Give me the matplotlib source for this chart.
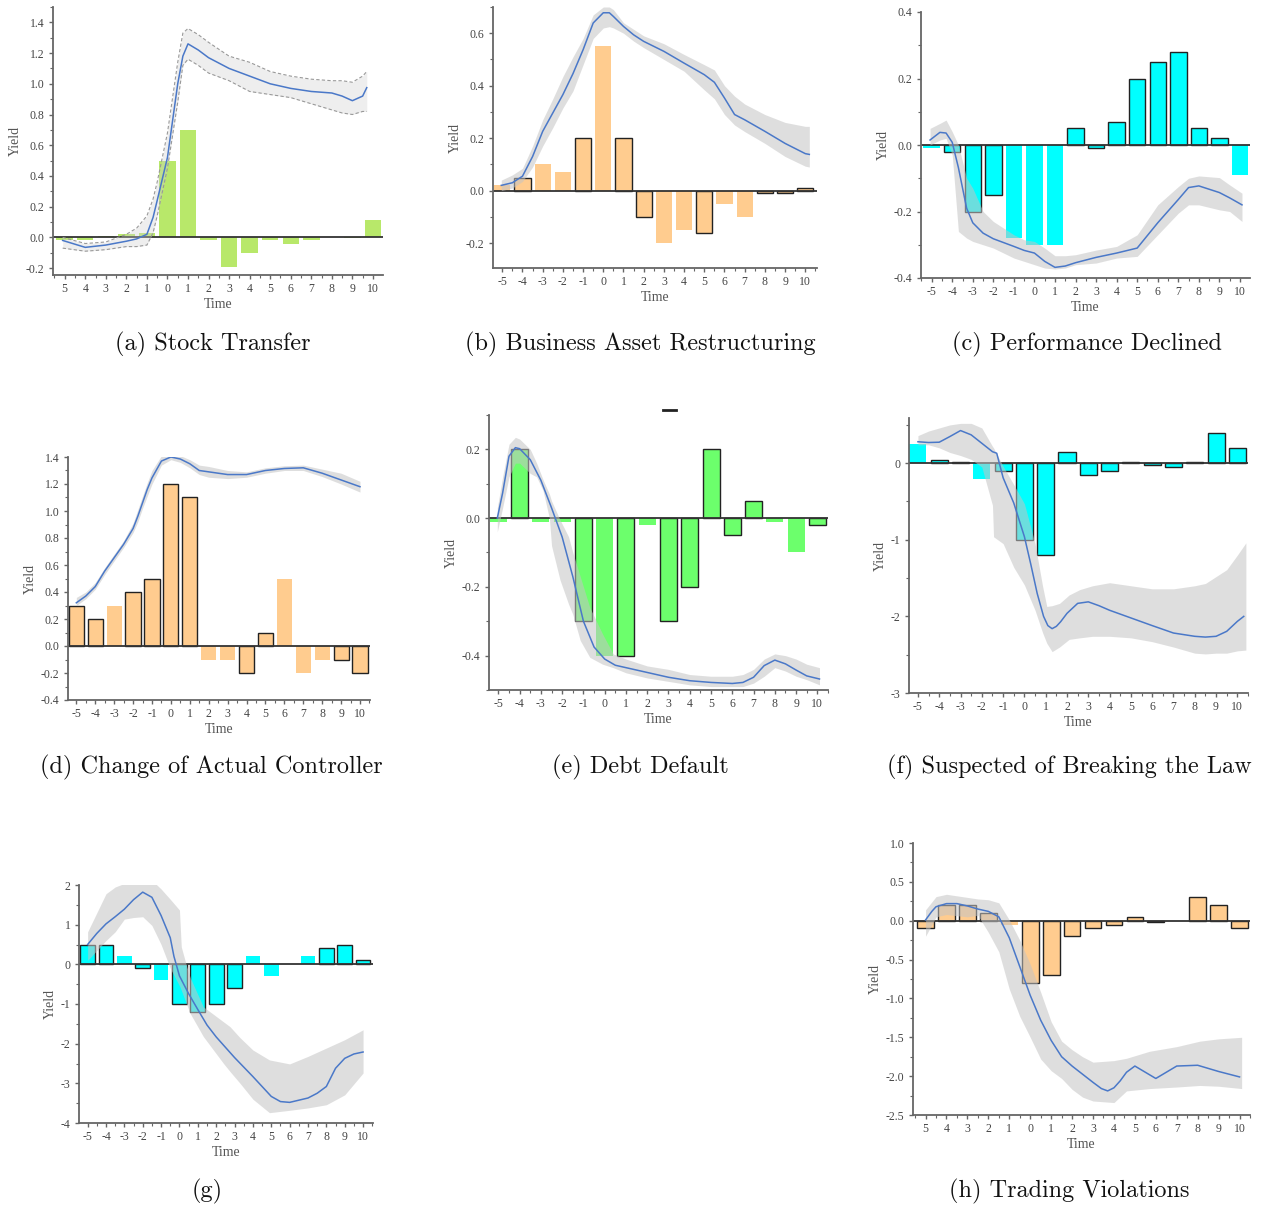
import matplotlib
matplotlib.use('Agg')
import matplotlib.pyplot as plt
from matplotlib.lines import Line2D
from matplotlib.ticker import MultipleLocator

plt.rcParams['font.family'] = ['Liberation Serif', 'DejaVu Serif']

# event window shared by all panels
time = list(range(-5, 11))
labels_signed = [str(v) for v in time]
labels_plain = [str(abs(v)) for v in time]

# (a) Stock Transfer
bars_a = [-0.02, -0.02, 0.01, 0.02, 0.03, 0.50, 0.70, -0.02, -0.19, -0.10, -0.015, -0.045, -0.02, 0.005, -0.005, 0.11]
line_t_a = [-5.1, -4, -3, -2, -1.5, -1, -0.7, -0.5, 0, 0.5, 0.75, 1, 1.5, 2, 3, 4, 5, 6, 7, 8, 8.5, 9, 9.5, 9.7]
line_y_a = [-0.02, -0.065, -0.05, -0.025, -0.01, 0.02, 0.13, 0.24, 0.52, 1.0, 1.18, 1.26, 1.22, 1.17, 1.10, 1.05, 1.0,
            0.97, 0.95, 0.94, 0.92, 0.89, 0.92, 0.975]
band_t_a = line_t_a
band_lo_a = [-0.07, -0.09, -0.08, -0.06, -0.06, -0.05, 0.03, 0.14, 0.45, 0.88, 1.12, 1.16, 1.12, 1.07, 1.02, 0.95, 0.93,
             0.91, 0.87, 0.83, 0.81, 0.80, 0.82, 0.82]
band_hi_a = [0.0, -0.04, -0.03, 0.02, 0.06, 0.14, 0.25, 0.36, 0.68, 1.14, 1.33, 1.36, 1.32, 1.27, 1.18, 1.14, 1.08,
             1.05, 1.03, 1.02, 1.02, 1.01, 1.05, 1.08]

# (b) Business Asset Restructuring
bars_b = [0.02, 0.05, 0.10, 0.07, 0.20, 0.55, 0.20, -0.10, -0.20, -0.15, -0.16, -0.05, -0.10, -0.01, -0.01, 0.01]
line_t_b = [-5.05, -4.5, -4, -3.5, -3, -2.5, -2, -1.5, -1, -0.5, 0, 0.3, 0.5, 1, 1.5, 2, 3, 4, 5, 5.5, 6, 6.5, 7, 8,
            9, 10, 10.2]
line_y_b = [0.02, 0.03, 0.055, 0.13, 0.226, 0.296, 0.366, 0.446, 0.537, 0.639, 0.678, 0.678, 0.664, 0.626, 0.594,
            0.569, 0.531, 0.486, 0.442, 0.413, 0.353, 0.29, 0.27, 0.226, 0.18, 0.141, 0.138]
band_t_b = line_t_b
band_lo_b = [0.0, 0.01, 0.035, 0.09, 0.17, 0.24, 0.315, 0.38, 0.48, 0.58, 0.62, 0.625, 0.62, 0.60, 0.57, 0.545, 0.50,
             0.455, 0.384, 0.35, 0.29, 0.25, 0.225, 0.18, 0.13, 0.093, 0.09]
band_hi_b = [0.04, 0.06, 0.085, 0.17, 0.27, 0.35, 0.435, 0.51, 0.58, 0.67, 0.70, 0.70, 0.69, 0.64, 0.615, 0.59, 0.56,
             0.519, 0.48, 0.46, 0.40, 0.36, 0.33, 0.29, 0.26, 0.245, 0.245]

# (c) Performance Declined
bars_c = [-0.01, -0.02, -0.20, -0.15, -0.28, -0.30, -0.30, 0.05, -0.01, 0.07, 0.20, 0.25, 0.28, 0.05, 0.02, -0.09]
line_t_c = [-5.08, -4.6, -4.3, -4, -3.7, -3.3, -3, -2.5, -2, -1, -0.5, 0, 0.5, 1, 1.5, 2, 3, 4, 5, 6, 7, 7.5, 8, 9,
            9.5, 10.1]
line_y_c = [0.015, 0.038, 0.036, 0.008, -0.068, -0.19, -0.234, -0.265, -0.282, -0.305, -0.317, -0.325, -0.35, -0.368,
            -0.364, -0.354, -0.338, -0.325, -0.31, -0.234, -0.164, -0.128, -0.123, -0.143, -0.159, -0.18]
band_t_c = line_t_c
band_lo_c = [0.0, 0.015, 0.02, -0.03, -0.26, -0.28, -0.29, -0.30, -0.31, -0.34, -0.35, -0.36, -0.37, -0.373, -0.37,
             -0.36, -0.355, -0.34, -0.335, -0.27, -0.205, -0.18, -0.18, -0.195, -0.20, -0.23]
band_hi_c = [0.05, 0.065, 0.075, 0.04, 0.0, -0.10, -0.13, -0.20, -0.23, -0.27, -0.285, -0.29, -0.31, -0.333, -0.333,
             -0.33, -0.316, -0.305, -0.27, -0.18, -0.125, -0.10, -0.093, -0.098, -0.12, -0.145]

# (d) Change of Actual Controller
bars_d = [0.30, 0.20, 0.30, 0.40, 0.50, 1.20, 1.10, -0.10, -0.10, -0.20, 0.10, 0.50, -0.20, -0.10, -0.10, -0.20]
line_t_d = [-5, -4.5, -4, -3.5, -3, -2.5, -2, -1.75, -1.5, -1.25, -1, -0.5, 0, 0.5, 1, 1.5, 2, 3, 4, 5, 6, 7, 8, 9, 10]
line_y_d = [0.32, 0.37, 0.44, 0.555, 0.654, 0.753, 0.87, 0.96, 1.06, 1.16, 1.245, 1.37, 1.40, 1.385, 1.35, 1.30, 1.29,
            1.27, 1.27, 1.30, 1.315, 1.32, 1.28, 1.23, 1.18]
band_t_d = line_t_d
band_lo_d = [0.30, 0.35, 0.42, 0.53, 0.63, 0.73, 0.84, 0.92, 1.02, 1.11, 1.20, 1.34, 1.38, 1.36, 1.32, 1.27, 1.25,
             1.24, 1.25, 1.28, 1.30, 1.30, 1.255, 1.20, 1.14]
band_hi_d = [0.36, 0.40, 0.47, 0.58, 0.68, 0.78, 0.91, 1.01, 1.11, 1.21, 1.30, 1.41, 1.43, 1.41, 1.38, 1.34, 1.33,
             1.30, 1.29, 1.32, 1.335, 1.34, 1.31, 1.28, 1.22]

# (e) Debt Default
bars_e = [-0.01, 0.20, -0.01, -0.01, -0.30, -0.40, -0.40, -0.02, -0.30, -0.20, 0.20, -0.05, 0.05, -0.01, -0.10, -0.02]
line_t_e = [-5.05, -4.8, -4.5, -4.2, -4, -3.5, -3, -2.5, -2, -1.5, -1, -0.5, 0, 0.5, 1, 2, 3, 4, 5, 6, 6.5, 7, 7.5,
            8, 8.5, 9, 9.5, 10.1]
line_y_e = [0.0, 0.073, 0.18, 0.205, 0.202, 0.17, 0.11, 0.03, -0.055, -0.17, -0.30, -0.375, -0.41, -0.428, -0.435,
            -0.449, -0.463, -0.473, -0.478, -0.481, -0.478, -0.463, -0.429, -0.413, -0.424, -0.442, -0.459, -0.468]
band_t_e = [-5.05, -4.8, -4.5, -4.2, -4, -3.5, -3.2, -2.9, -2.6, -2.5, -2.1, -1.7, -1.5, -1.15, -0.7, -0.1, 0.4, 1,
            2, 3, 4, 5, 6, 6.5, 7, 7.5, 8, 8.5, 9, 9.5, 10.1]
band_lo_e = [-0.04, 0.03, 0.12, 0.16, 0.16, 0.13, 0.12, 0.08, 0.0, -0.08, -0.18, -0.25, -0.28, -0.356, -0.405, -0.425,
             -0.435, -0.45, -0.465, -0.475, -0.485, -0.49, -0.49, -0.49, -0.48, -0.46, -0.435, -0.445, -0.46, -0.47,
             -0.485]
band_hi_e = [0.03, 0.12, 0.215, 0.235, 0.23, 0.20, 0.16, 0.112, 0.07, 0.05, -0.005, -0.054, -0.10, -0.17, -0.26,
             -0.337, -0.395, -0.41, -0.43, -0.44, -0.455, -0.46, -0.46, -0.455, -0.44, -0.41, -0.395, -0.40, -0.41,
             -0.425, -0.435]

# (f) Suspected of Breaking the Law
bars_f = [0.25, 0.04, 0.02, -0.20, -0.10, -1.00, -1.20, 0.15, -0.15, -0.10, 0.02, -0.02, -0.05, 0.01, 0.40, 0.20]
line_t_f = [-5, -4.5, -4, -3.5, -3, -2.5, -2, -1.5, -1.3, -1, -0.5, 0, 0.3, 0.6, 0.9, 1.1, 1.3, 1.5, 1.7, 2, 2.5, 3,
            3.5, 4, 5, 6, 7, 8, 8.5, 9, 9.5, 10, 10.3]
line_y_f = [0.28, 0.27, 0.274, 0.348, 0.426, 0.37, 0.26, 0.15, 0.13, -0.19, -0.52, -0.96, -1.32, -1.70, -2.0, -2.12,
            -2.16, -2.13, -2.07, -1.96, -1.83, -1.81, -1.86, -1.92, -2.02, -2.12, -2.217, -2.26, -2.27, -2.26, -2.195,
            -2.065, -2.0]
band_t_f = [-5, -4.5, -4, -3.5, -3, -2.5, -2, -1.5, -1.45, -1, -0.5, 0, 0.5, 0.85, 1.05, 1.3, 1.65, 2.1, 2.6, 3.2, 4,
            5, 6, 7, 8, 8.5, 9, 9.5, 10, 10.4]
band_lo_f = [0.24, 0.24, 0.2, 0.14, 0.10, 0.05, -0.05, -0.55, -0.96, -1.05, -1.36, -1.59, -1.92, -2.21, -2.35, -2.46,
             -2.40, -2.30, -2.28, -2.26, -2.26, -2.28, -2.33, -2.40, -2.48, -2.49, -2.48, -2.48, -2.45, -2.44]
band_hi_f = [0.36, 0.42, 0.46, 0.50, 0.52, 0.52, 0.46, 0.22, 0.20, -0.04, -0.28, -0.53, -1.05, -1.6, -1.87, -1.86,
             -1.83, -1.72, -1.65, -1.60, -1.56, -1.60, -1.64, -1.64, -1.60, -1.57, -1.48, -1.39, -1.2, -1.04]

# (g)
bars_g = [0.5, 0.5, 0.2, -0.1, -0.4, -1.0, -1.2, -1.0, -0.6, 0.2, -0.3, 0.0, 0.2, 0.4, 0.5, 0.1]
line_t_g = [-5, -4.5, -4, -3.5, -3, -2.5, -2, -1.5, -1, -0.5, -0.3, 0, 0.5, 1, 1.5, 2, 3, 4, 5, 5.5, 6, 7, 7.5, 8,
            8.5, 9, 9.5, 10]
line_y_g = [0.5, 0.78, 1.02, 1.2, 1.39, 1.63, 1.82, 1.69, 1.23, 0.67, 0.2, -0.29, -0.74, -1.14, -1.53, -1.83, -2.35,
            -2.83, -3.33, -3.46, -3.48, -3.37, -3.25, -3.08, -2.62, -2.37, -2.26, -2.21]
band_t_g = [-5, -4.5, -4, -3.5, -3, -2.5, -2, -1.5, -1, -0.5, 0, 0.1, 0.4, 0.6, 1.3, 2.4, 2.75, 3.3, 4, 4.9, 6, 7,
            8, 9, 10]
band_lo_g = [0.1, 0.35, 0.6, 0.82, 1.14, 1.18, 1.2, 0.98, 0.5, -0.1, -0.54, -0.65, -1.02, -1.25, -1.82, -2.5, -2.7,
             -3.0, -3.4, -3.74, -3.68, -3.62, -3.54, -3.29, -2.74]
band_hi_g = [0.82, 1.3, 1.78, 1.95, 2.04, 2.08, 2.1, 2.12, 1.90, 1.64, 1.37, 0.44, -0.06, -0.35, -1.07, -1.45, -1.57,
             -1.85, -2.16, -2.41, -2.51, -2.32, -2.11, -1.9, -1.65]

# (h) Trading Violations
bars_h = [-0.10, 0.20, 0.20, 0.10, -0.05, -0.80, -0.70, -0.20, -0.10, -0.05, 0.05, -0.02, 0.0, 0.30, 0.20, -0.10]
line_t_h = [-5, -4.7, -4.5, -4, -3.5, -3, -2.5, -2, -1.5, -1, -0.5, 0, 0.5, 1, 1.5, 2, 3, 3.4, 3.7, 4, 4.3, 4.6, 5,
            5.5, 6, 6.5, 7, 8, 9, 10]
line_y_h = [0.01, 0.12, 0.18, 0.22, 0.22, 0.19, 0.15, 0.12, 0.05, -0.22, -0.59, -0.96, -1.28, -1.54, -1.75, -1.87,
            -2.08, -2.16, -2.19, -2.15, -2.06, -1.95, -1.87, -1.95, -2.03, -1.95, -1.87, -1.86, -1.94, -2.01]
band_t_h = [-5, -4.5, -4, -3, -2.5, -2, -1.5, -1, -0.5, 0, 0.5, 1, 1.5, 2, 2.5, 3, 4, 4.6, 5.7, 7, 8.1, 9, 10.1]
band_lo_h = [-0.20, 0.05, 0.08, 0.05, 0.07, -0.15, -0.40, -0.88, -1.23, -1.50, -1.78, -1.93, -2.03, -2.17, -2.27,
             -2.32, -2.34, -2.19, -2.16, -2.14, -2.12, -2.13, -2.16]
band_hi_h = [0.14, 0.31, 0.34, 0.30, 0.28, 0.27, 0.23, 0.01, -0.25, -0.56, -0.92, -1.30, -1.55, -1.66, -1.75, -1.82,
             -1.80, -1.77, -1.68, -1.62, -1.55, -1.52, -1.50]

captions = ['(a) Stock Transfer', '(b) Business Asset Restructuring', '(c) Performance Declined',
            '(d) Change of Actual Controller', '(e) Debt Default', '(f) Suspected of Breaking the Law',
            '(g)', '(h) Trading Violations']

GREEN_A = '#b8e86a'
ORANGE = '#ffcc8f'
CYAN = '#00ffff'
GREEN_E = '#6cff6c'

W, H = 1266, 1209
fig = plt.figure(figsize=(W / 100, H / 100), dpi=100)


def px_rect(x0, y0, x1, y1):
    return [x0 / W, 1 - y1 / H, (x1 - x0) / W, (y1 - y0) / H]


def draw_panel(rect, bars, line_t, line_y, band_t, band_lo, band_hi, color, edged,
               xlim, ylim, yticks, yfmt, ystep, xlabels, soft_band=False):
    ax = fig.add_axes(rect)
    edges = ['#222222' if t in edged else 'none' for t in time]
    ax.bar(time, bars, width=0.8, color=color, edgecolor=edges, linewidth=1.0, zorder=2)
    ax.axhline(0, color='#333333', lw=1.3, zorder=2.5)
    if soft_band:
        ax.fill_between(band_t, band_lo, band_hi, color='#d0d0d0', alpha=0.35, lw=0, zorder=3)
        ax.plot(band_t, band_lo, color='#999999', lw=0.8, ls=(0, (3, 2)), zorder=3)
        ax.plot(band_t, band_hi, color='#999999', lw=0.8, ls=(0, (3, 2)), zorder=3)
    else:
        ax.fill_between(band_t, band_lo, band_hi, color='#c4c4c4', alpha=0.55, lw=0, zorder=3)
    ax.plot(line_t, line_y, color='#4a78c8', lw=1.1, zorder=4)

    ax.set_xlim(*xlim)
    ax.set_ylim(*ylim)
    ax.set_xticks(time)
    ax.set_xticklabels(xlabels)
    ax.xaxis.set_minor_locator(MultipleLocator(0.5))
    ax.set_yticks(yticks)
    ax.set_yticklabels([yfmt.format(v) for v in yticks])
    ax.yaxis.set_minor_locator(MultipleLocator(ystep))
    for side in ['top', 'right']:
        ax.spines[side].set_visible(False)
    for side in ['left', 'bottom']:
        ax.spines[side].set_color('#666666')
        ax.spines[side].set_linewidth(1.3)
    ax.tick_params(which='major', direction='out', length=3, width=1, colors='#666666',
                   labelcolor='#444444', labelsize=8.5, pad=3)
    ax.tick_params(which='minor', direction='out', length=2, width=0.8, colors='#666666')
    ax.set_xlabel('Time', fontsize=10, color='#555555', labelpad=2)
    ax.set_ylabel('Yield', fontsize=10, color='#555555', labelpad=3)
    return ax


draw_panel(px_rect(53, 7, 383, 275), bars_a, line_t_a, line_y_a, band_t_a, band_lo_a, band_hi_a, GREEN_A, [],
           (-5.57, 10.49), (-0.245, 1.5), [-0.2, 0, 0.2, 0.4, 0.6, 0.8, 1.0, 1.2, 1.4], '{:.1f}', 0.1,
           labels_plain, soft_band=True)
draw_panel(px_rect(493, 7, 817, 268), bars_b, line_t_b, line_y_b, band_t_b, band_lo_b, band_hi_b, ORANGE,
           [-4, -1, 1, 2, 5, 8, 9, 10],
           (-5.46, 10.58), (-0.295, 0.70), [-0.2, 0, 0.2, 0.4, 0.6], '{:.1f}', 0.1, labels_signed)
draw_panel(px_rect(921, 12, 1250, 278), bars_c, line_t_c, line_y_c, band_t_c, band_lo_c, band_hi_c, CYAN,
           [-4, -3, -2, 2, 3, 4, 5, 6, 7, 8, 9],
           (-5.52, 10.49), (-0.4, 0.4), [-0.4, -0.2, 0, 0.2, 0.4], '{:.1f}', 0.1, labels_signed)
draw_panel(px_rect(68, 457, 370, 700), bars_d, line_t_d, line_y_d, band_t_d, band_lo_d, band_hi_d, ORANGE,
           [-5, -4, -2, -1, 0, 1, 4, 5, 9, 10],
           (-5.44, 10.53), (-0.4, 1.4), [-0.4, -0.2, 0, 0.2, 0.4, 0.6, 0.8, 1.0, 1.2, 1.4], '{:.1f}', 0.1,
           labels_signed)
draw_panel(px_rect(489, 415, 828, 690), bars_e, line_t_e, line_y_e, band_t_e, band_lo_e, band_hi_e, GREEN_E,
           [-4, -1, 1, 3, 4, 5, 6, 7, 10],
           (-5.44, 10.5), (-0.5, 0.3), [-0.4, -0.2, 0, 0.2], '{:.1f}', 0.1, labels_signed)
draw_panel(px_rect(909, 418, 1248, 693), bars_f, line_t_f, line_y_f, band_t_f, band_lo_f, band_hi_f, CYAN,
           [-4, -3, -1, 0, 1, 2, 3, 4, 5, 6, 7, 8, 9, 10],
           (-5.42, 10.5), (-3, 0.59), [-3, -2, -1, 0], '{:.0f}', 0.5, labels_signed)
draw_panel(px_rect(79, 885, 373, 1123), bars_g, line_t_g, line_y_g, band_t_g, band_lo_g, band_hi_g, CYAN,
           [-5, -4, -2, 0, 1, 2, 3, 8, 9, 10],
           (-5.47, 10.54), (-4, 2), [-4, -3, -2, -1, 0, 1, 2], '{:.0f}', 0.5, labels_signed)
draw_panel(px_rect(913, 843, 1250, 1115), bars_h, line_t_h, line_y_h, band_t_h, band_lo_h, band_hi_h, ORANGE,
           [-5, -4, -3, -2, 0, 1, 2, 3, 4, 5, 6, 8, 9, 10],
           (-5.6, 10.5), (-2.5, 1.0), [-2.5, -2.0, -1.5, -1.0, -0.5, 0, 0.5, 1.0], '{:.1f}', 0.25, labels_plain)

# stray dash left above panel (e)
fig.add_artist(Line2D([663 / W, 676 / W], [1 - 410 / H, 1 - 410 / H], color='#222222', lw=2))

# sub-figure captions
caption_pos = [(213, 344), (640, 344), (1087, 344), (211, 767), (640, 767), (1069, 767), (207, 1191), (1069, 1191)]
for text, (cx, cy) in zip(captions, caption_pos):
    fig.text(cx / W, 1 - cy / H, text, ha='center', va='center', fontsize=17.5, family='cmr10', color='#111111')

fig.savefig('out.png', dpi=100)
